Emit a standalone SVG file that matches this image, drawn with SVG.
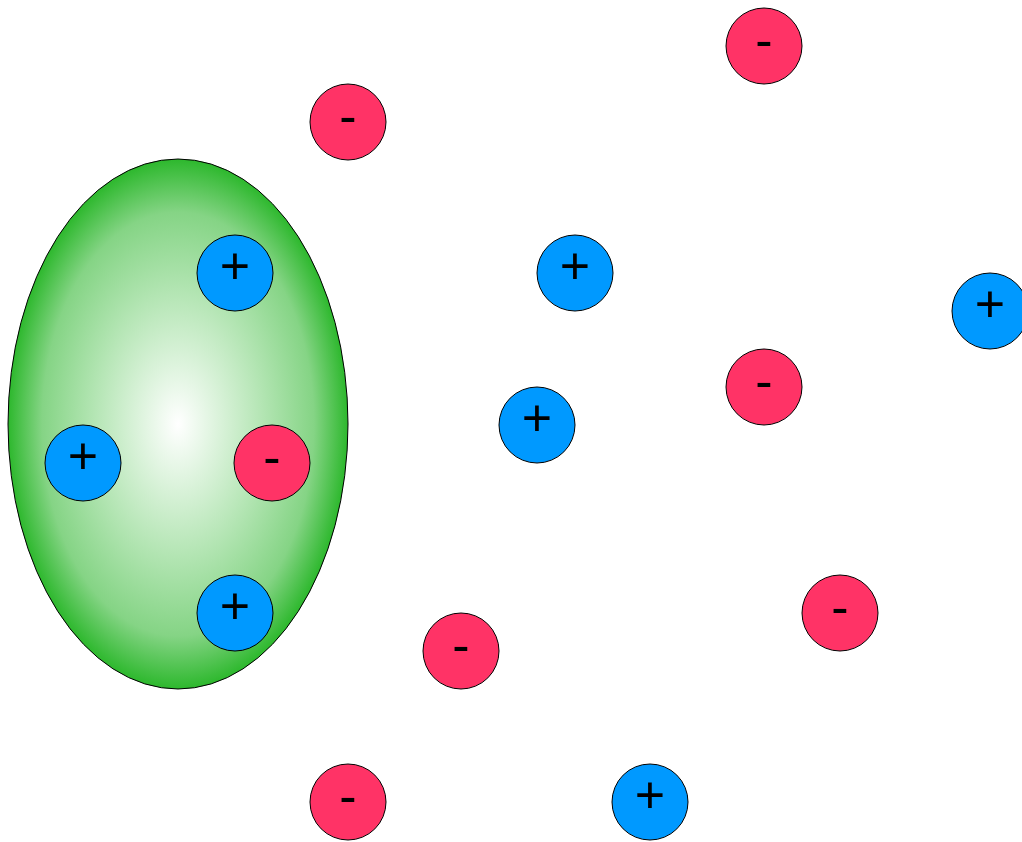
<svg xmlns="http://www.w3.org/2000/svg" width="1022" height="842" viewBox="0 0 1022 842">
<defs>
<radialGradient id="g" cx="0.5" cy="0.5" r="0.5">
<stop offset="0" stop-color="#ffffff"/>
<stop offset="0.5" stop-color="#b3e5b3"/>
<stop offset="0.8" stop-color="#85d485"/>
<stop offset="1" stop-color="#2db82d"/>
</radialGradient>
<style>
.p{fill:#0099ff;stroke:#000;stroke-width:1}
.n{fill:#ff3366;stroke:#000;stroke-width:1}
.t{font-family:"Liberation Sans",Arial,sans-serif;font-size:52px;text-anchor:middle;fill:#000}
</style>
</defs>
<rect width="1022" height="842" fill="#fff"/>
<g id="cell"><ellipse cx="178" cy="424" rx="170" ry="265" fill="url(#g)" stroke="#000" stroke-width="1"/></g>
<g id="n1"><circle class="n" cx="764" cy="46" r="38"/><text class="t" x="764" y="58">-</text></g>
<g id="n2"><circle class="n" cx="348" cy="122" r="38"/><text class="t" x="348" y="134">-</text></g>
<g id="p1"><circle class="p" cx="235" cy="273" r="38"/><text class="t" x="235" y="284">+</text></g>
<g id="p2"><circle class="p" cx="575" cy="273" r="38"/><text class="t" x="575" y="284">+</text></g>
<g id="p3"><circle class="p" cx="990" cy="311" r="38"/><text class="t" x="990" y="322">+</text></g>
<g id="n3"><circle class="n" cx="764" cy="387" r="38"/><text class="t" x="764" y="399">-</text></g>
<g id="p4"><circle class="p" cx="537" cy="425" r="38"/><text class="t" x="537" y="436">+</text></g>
<g id="p5"><circle class="p" cx="83" cy="463" r="38"/><text class="t" x="83" y="474">+</text></g>
<g id="n4"><circle class="n" cx="272" cy="463" r="38"/><text class="t" x="272" y="475">-</text></g>
<g id="p6"><circle class="p" cx="235" cy="613" r="38"/><text class="t" x="235" y="624">+</text></g>
<g id="n5"><circle class="n" cx="840" cy="613" r="38"/><text class="t" x="840" y="625">-</text></g>
<g id="n6"><circle class="n" cx="461" cy="651" r="38"/><text class="t" x="461" y="663">-</text></g>
<g id="n7"><circle class="n" cx="348" cy="802" r="38"/><text class="t" x="348" y="814">-</text></g>
<g id="p7"><circle class="p" cx="650" cy="802" r="38"/><text class="t" x="650" y="813">+</text></g>
</svg>
